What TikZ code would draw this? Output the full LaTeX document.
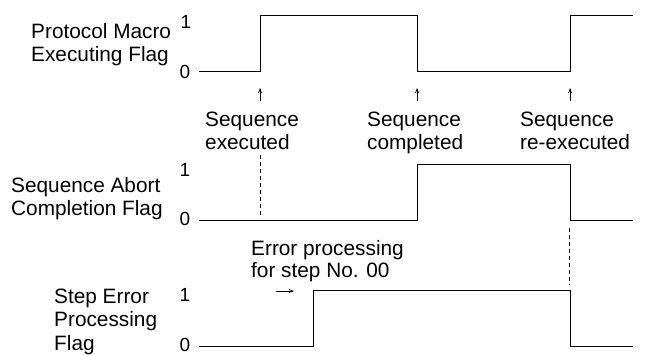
\documentclass[tikz,border=0pt]{standalone}
\usepackage{fontspec}
\setmainfont{Liberation Sans}
\usetikzlibrary{arrows.meta}
\begin{document}
\begin{tikzpicture}[x=1pt,y=-1pt,
  lbl/.style={inner sep=0pt, anchor=base west, font=\fontsize{20.8}{23}\selectfont},
  lvl/.style={inner sep=0pt, anchor=base, font=\fontsize{19}{22}\selectfont},
  wave/.style={line width=1pt, line join=miter},
  evt/.style={line width=0.7pt, -{Straight Barb[length=4pt,width=3pt]}},
  guide/.style={line width=0.8pt, dash pattern=on 4pt off 3pt}]
\useasboundingbox (0,0) rectangle (647,354);
% flag names
\node[lbl] (pm1) at (31,38.3) {Protocol Macro};
\node[lbl] (pm2) at (31,61.7) {Executing Flag};
\node[lbl] (sa1) at (11,192.7) {Sequence Abort};
\node[lbl] (sa2) at (11,215.7) {Completion Flag};
\node[lbl] (se1) at (54,303.3) {Step Error};
\node[lbl] (se2) at (54,326.7) {Processing};
\node[lbl] (se3) at (54,350) {Flag};
% levels
\node[lvl] (a1) at (186,28.3) {1};
\node[lvl] (a0) at (185,78.3) {0};
\node[lvl] (b1) at (185,176.7) {1};
\node[lvl] (b0) at (185,225) {0};
\node[lvl] (c1) at (185,301.7) {1};
\node[lvl] (c0) at (185,351) {0};
% waveforms
\draw[wave] (199,71.7) -- (260,71.7) -- (260,15.7) -- (417,15.7) -- (417,71.7) -- (570,71.7) -- (570,15.7) -- (633,15.7);
\draw[wave] (199,220.5) -- (417,220.5) -- (417,164) -- (570,164) -- (570,220.5) -- (633,220.5);
\draw[wave] (199,346) -- (313,346) -- (313,290) -- (570,290) -- (570,346) -- (633,346);
% event labels
\node[lbl] (ex1) at (205,126) {Sequence};
\node[lbl] (ex2) at (205,149) {executed};
\node[lbl] (co1) at (367,126) {Sequence};
\node[lbl] (co2) at (367,149) {completed};
\node[lbl] (re1) at (520,126) {Sequence};
\node[lbl] (re2) at (520,149) {re-executed};
\node[lbl] (er1) at (251,255.5) {Error processing};
\node[lbl] (er2) at (251,277.5) {for step No. 00};
% event arrows
\coordinate (u1b) at (260,101); \coordinate (u1t) at (260,88);
\coordinate (u2b) at (417,101); \coordinate (u2t) at (417,88);
\coordinate (u3b) at (570,101); \coordinate (u3t) at (570,88);
\coordinate (r1a) at (276,291); \coordinate (r1b) at (294,291);
\draw[evt] (u1b) -- (u1t);
\draw[evt] (u2b) -- (u2t);
\draw[evt] (u3b) -- (u3t);
\draw[evt] (r1a) -- (r1b);
% guides
\coordinate (g1a) at (260,155); \coordinate (g1b) at (260,218);
\coordinate (g2a) at (569,228); \coordinate (g2b) at (569,285);
\draw[guide] (g1a) -- (g1b);
\draw[guide] (g2a) -- (g2b);
\end{tikzpicture}
\end{document}
